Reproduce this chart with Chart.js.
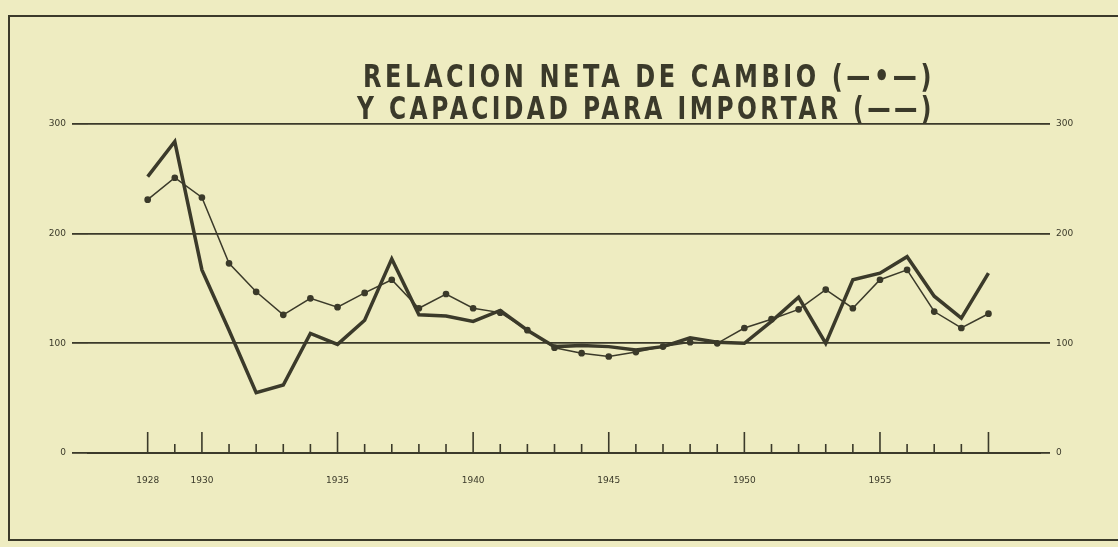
<!DOCTYPE html>
<html>
<head>
<meta charset="utf-8">
<script src="https://cdn.jsdelivr.net/npm/chart.js@4.4.0/dist/chart.umd.min.js"></script>
<style>
  html, body { margin: 0; padding: 0; background: #eeecc1; }
  #wrap { width: 1118px; height: 547px; position: relative; }
</style>
</head>
<body>
<div id="wrap"><canvas id="chart"></canvas></div>
<script>
// Data
const years = [1928, 1929, 1930, 1931, 1932, 1933, 1934, 1935, 1936, 1937,
               1938, 1939, 1940, 1941, 1942, 1943, 1944, 1945, 1946, 1947,
               1948, 1949, 1950, 1951, 1952, 1953, 1954, 1955, 1956, 1957,
               1958, 1959];
const relacionNeta = [231, 251, 233, 173, 147, 126, 141, 133, 146, 158,
                      132, 145, 132, 128, 112, 96, 91, 88, 92, 97,
                      101, 100, 114, 122, 131, 149, 132, 158, 167, 129,
                      114, 127];
const capacidadImportar = [252, 284, 167, 112, 55, 62, 109, 99, 121, 177,
                           126, 125, 120, 130, 112, 97, 98, 97, 94, 97,
                           105, 101, 100, 120, 142, 100, 158, 164, 179, 143,
                           123, 164];
const labeledYears = [1928, 1930, 1935, 1940, 1945, 1950, 1955];
const majorTickYears = [1928, 1930, 1935, 1940, 1945, 1950, 1955, 1959];
const yTicks = [0, 100, 200, 300];
const titleLines = ['RELACION NETA DE CAMBIO (—•—)', 'Y CAPACIDAD PARA IMPORTAR (——)'];

const INK = '#3b3a2a';
const PAPER = '#eeecc1';

// Frame, title and the small year ticks above the axis
const paperPlugin = {
    id: 'paper',
    beforeDraw(chart) {
        const ctx = chart.ctx;
        ctx.save();
        ctx.fillStyle = PAPER;
        ctx.fillRect(0, 0, chart.width, chart.height);
        ctx.strokeStyle = INK;
        ctx.lineWidth = 2;
        ctx.strokeRect(9, 16, chart.width + 20, 524);
        ctx.restore();
    },
    afterDraw(chart) {
        const ctx = chart.ctx;
        const x = chart.scales.x;
        const bottom = chart.chartArea.bottom;
        ctx.save();
        ctx.strokeStyle = INK;
        ctx.lineWidth = 1.6;
        years.forEach(yr => {
            const px = x.getPixelForValue(yr);
            const len = majorTickYears.includes(yr) ? 21 : 9;
            ctx.beginPath();
            ctx.moveTo(px, bottom);
            ctx.lineTo(px, bottom - len);
            ctx.stroke();
        });

        // title, hand-lettered look: spaced out and stretched to the original width
        ctx.fillStyle = INK;
        ctx.textBaseline = 'alphabetic';
        ctx.font = 'bold 27px "DejaVu Sans"';
        ctx.letterSpacing = '4px';
        const spots = [[363, 87, 572], [357, 119, 578]];
        titleLines.forEach((t, i) => {
            const [tx, ty, tw] = spots[i];
            const w = ctx.measureText(t).width;
            ctx.save();
            ctx.translate(tx, ty);
            ctx.scale(tw / w, 1.2);
            ctx.fillText(t, 0, 0);
            ctx.restore();
        });
        ctx.restore();
    }
};

const ctx = document.getElementById('chart').getContext('2d');
new Chart(ctx, {
    type: 'line',
    data: {
        datasets: [{
            label: 'Relación neta de cambio',
            data: years.map((yr, i) => ({ x: yr, y: relacionNeta[i] })),
            borderColor: INK,
            backgroundColor: INK,
            borderWidth: 1.5,
            pointRadius: 2.6,
            pointHoverRadius: 2.6,
            tension: 0
        }, {
            label: 'Capacidad para importar',
            data: years.map((yr, i) => ({ x: yr, y: capacidadImportar[i] })),
            borderColor: INK,
            borderWidth: 3.5,
            pointRadius: 0,
            tension: 0
        }]
    },
    options: {
        responsive: true,
        maintainAspectRatio: false,
        animation: false,
        layout: { padding: { left: 8, right: 8, top: 124, bottom: 0 } },
        plugins: {
            legend: { display: false },
            title: { display: false },
            tooltip: { enabled: false }
        },
        scales: {
            x: {
                type: 'linear',
                min: 1925.8,
                max: 1960.9,
                afterBuildTicks: s => { s.ticks = labeledYears.map(v => ({ value: v })); },
                afterFit: s => { s.height = 94; },
                grid: { display: false },
                border: { display: true, color: INK, width: 2 },
                ticks: {
                    color: INK,
                    padding: 14,
                    maxRotation: 0,
                    autoSkip: false,
                    font: { family: 'DejaVu Sans', size: 9 },
                    callback: v => String(v)
                }
            },
            y: {
                position: 'left',
                min: 0,
                max: 300,
                afterBuildTicks: s => { s.ticks = yTicks.map(v => ({ value: v })); },
                afterFit: s => { s.width = 80; },
                grid: { color: INK, lineWidth: 1.8, drawTicks: true, tickLength: 16 },
                border: { display: false },
                ticks: {
                    color: INK,
                    padding: 6,
                    font: { family: 'DejaVu Sans', size: 9 }
                }
            },
            y2: {
                position: 'right',
                min: 0,
                max: 300,
                afterBuildTicks: s => { s.ticks = yTicks.map(v => ({ value: v })); },
                afterFit: s => { s.width = 70; },
                grid: { color: INK, lineWidth: 1.8, drawOnChartArea: false, drawTicks: true, tickLength: 10 },
                border: { display: false },
                ticks: {
                    color: INK,
                    padding: 6,
                    font: { family: 'DejaVu Sans', size: 9 }
                }
            }
        }
    },
    plugins: [paperPlugin]
});
</script>
</body>
</html>
